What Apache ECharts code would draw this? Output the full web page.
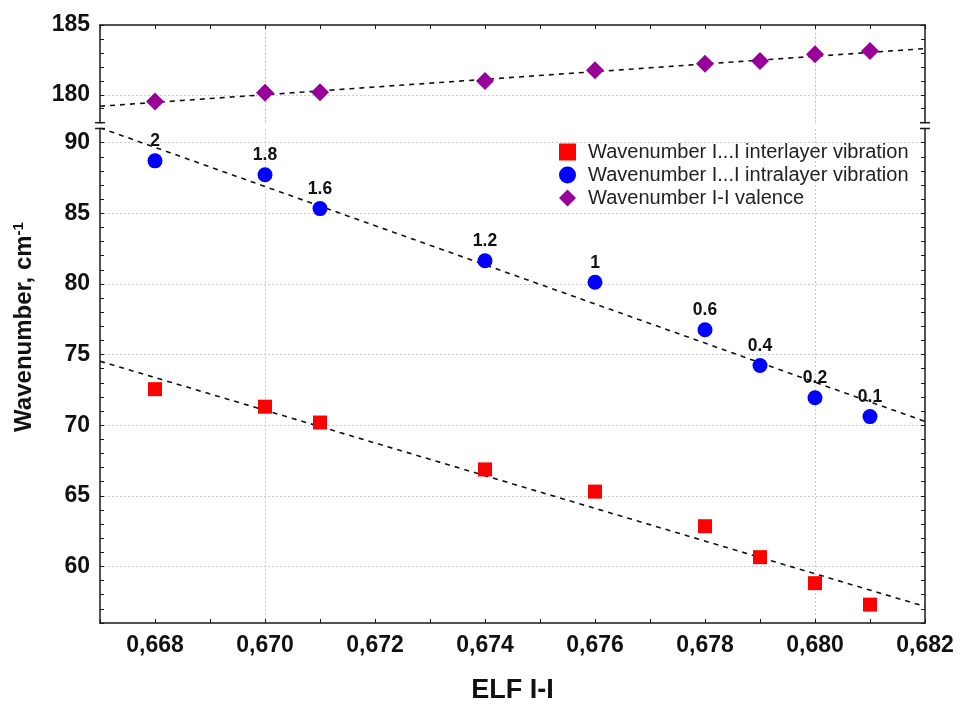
<!DOCTYPE html>
<html>
<head>
<meta charset="utf-8">
<script src="https://cdn.jsdelivr.net/npm/echarts@6/dist/echarts.min.js"></script>
<style>html,body{margin:0;padding:0;background:#fff}#c{width:960px;height:709px}</style>
</head>
<body>
<div id="c"></div>
<script>
// ---- data ----
const elf = [0.668, 0.670, 0.671, 0.674, 0.676, 0.678, 0.679, 0.680, 0.681];
const interlayer = [72.55, 71.31, 70.19, 66.87, 65.30, 62.85, 60.66, 58.82, 57.30];
const intralayer = [88.71, 87.73, 85.33, 81.64, 80.12, 76.76, 74.23, 71.94, 70.61];
const valence = [179.52, 180.14, 180.19, 180.98, 181.75, 182.23, 182.42, 182.90, 183.14];
const intraLabels = ['2', '1.8', '1.6', '1.2', '1', '0.6', '0.4', '0.2', '0.1'];
// trend line end points
const trendX = [0.667, 0.682];
const interTrend = [74.53, 57.17];
const intraTrend = [91.05, 70.27];
const valenceTrend = [179.18, 183.31];
// grid line positions
const xGrid = [0.668, 0.670, 0.672, 0.674, 0.676, 0.678, 0.680];
const yGridBottom = [60, 65, 70, 75, 80, 85, 90];
const yGridTop = [180];
const names = ['Wavenumber I...I interlayer vibration', 'Wavenumber I...I intralayer vibration', 'Wavenumber I-I valence'];

const FONT = "'Liberation Sans', Arial, sans-serif";
const AX = '#1a1a1a';
const G0 = {left: 100, top: 25, width: 825, height: 97.7};
const G1 = {left: 100, top: 128.5, width: 825, height: 499.5};

const pair = (xs, ys) => xs.map((x, i) => [x, ys[i]]);
const gridLineStyle = {color: '#cccccc', type: [2, 2], width: 1};

function xAxisCfg(grid, pos, showLabel) {
  return {
    type: 'value', gridIndex: grid, position: pos, min: 0.667, max: 0.682, interval: 0.001,
    axisLine: {show: true, onZero: false, lineStyle: {color: AX, width: 1.5}},
    axisTick: {show: true, inside: true, length: 4, lineStyle: {color: AX}},
    splitLine: {show: false},
    axisLabel: {
      show: showLabel, margin: 11, fontFamily: FONT, fontSize: 23, fontWeight: 'bold', color: '#111',
      formatter: v => (Math.round(v * 1000) % 2 === 0 ? v.toFixed(3).replace('.', ',') : '')
    }
  };
}
function yAxisCfg(grid, pos, min, max, showLabel) {
  return {
    type: 'value', gridIndex: grid, position: pos, min: min, max: max, interval: 1,
    axisLine: {show: true, onZero: false, lineStyle: {color: AX, width: 1.5}},
    axisTick: {show: true, inside: true, length: 4, lineStyle: {color: AX}},
    splitLine: {show: false},
    axisLabel: {
      show: showLabel, margin: 10, fontFamily: FONT, fontSize: 23, fontWeight: 'bold', color: '#111',
      formatter: v => (v % 5 === 0 ? String(v) : '')
    }
  };
}

const chart = echarts.init(document.getElementById('c'), null, {renderer: 'canvas'});
const option = {
  animation: false,
  backgroundColor: '#fff',
  grid: [G0, G1],
  xAxis: [
    xAxisCfg(0, 'top', false),
    Object.assign(xAxisCfg(1, 'bottom', true), {
      name: 'ELF I-I', nameLocation: 'middle', nameGap: 54,
      nameTextStyle: {fontFamily: FONT, fontSize: 27, fontWeight: 'bold', color: '#111'}
    })
  ],
  yAxis: [
    yAxisCfg(0, 'left', 178, 185, true),
    yAxisCfg(0, 'right', 178, 185, false),
    yAxisCfg(1, 'left', 56, 91, true),
    yAxisCfg(1, 'right', 56, 91, false)
  ],
  legend: {
    left: 554, top: 137, orient: 'vertical', itemGap: 3, itemWidth: 17, itemHeight: 17,
    textStyle: {fontFamily: FONT, fontSize: 20, color: '#222', padding: [0, 0, 0, 7]},
    data: [
      {name: names[0], icon: 'rect'},
      {name: names[1], icon: 'circle'},
      {name: names[2], icon: 'diamond'}
    ]
  },
  series: [
    // grid lines (drawn from value lists through the axes)
    {type: 'scatter', xAxisIndex: 0, yAxisIndex: 0, data: [], z: 0, silent: true,
     markLine: {z: 0, silent: true, symbol: 'none', label: {show: false}, lineStyle: gridLineStyle,
       data: xGrid.map(v => ({xAxis: v})).concat(yGridTop.map(v => ({yAxis: v})))}},
    {type: 'scatter', xAxisIndex: 1, yAxisIndex: 2, data: [], z: 0, silent: true,
     markLine: {z: 0, silent: true, symbol: 'none', label: {show: false}, lineStyle: gridLineStyle,
       data: xGrid.map(v => ({xAxis: v})).concat(yGridBottom.map(v => ({yAxis: v})))}},
    // trend lines
    {type: 'line', xAxisIndex: 0, yAxisIndex: 0, data: pair(trendX, valenceTrend), showSymbol: false, symbol: 'none',
     lineStyle: {color: '#111', width: 1.6, type: [5, 5]}, z: 2, clip: true},
    {type: 'line', xAxisIndex: 1, yAxisIndex: 2, data: pair(trendX, intraTrend), showSymbol: false, symbol: 'none',
     lineStyle: {color: '#111', width: 1.6, type: [5, 5]}, z: 2, clip: true},
    {type: 'line', xAxisIndex: 1, yAxisIndex: 2, data: pair(trendX, interTrend), showSymbol: false, symbol: 'none',
     lineStyle: {color: '#111', width: 1.6, type: [5, 5]}, z: 2, clip: true},
    // points
    {name: names[0], type: 'scatter', xAxisIndex: 1, yAxisIndex: 2, data: pair(elf, interlayer),
     symbol: 'rect', symbolSize: 14, itemStyle: {color: '#ff0000', opacity: 1}, z: 3},
    {name: names[1], type: 'scatter', xAxisIndex: 1, yAxisIndex: 2, data: pair(elf, intralayer),
     symbol: 'circle', symbolSize: 15, itemStyle: {color: '#0000ff', opacity: 1}, z: 3,
     label: {show: true, position: 'top', distance: 3, fontFamily: FONT, fontSize: 17.5, fontWeight: 'bold', color: '#111',
       formatter: p => intraLabels[p.dataIndex]}},
    {name: names[2], type: 'scatter', xAxisIndex: 0, yAxisIndex: 0, data: pair(elf, valence),
     symbol: 'diamond', symbolSize: [18, 18], itemStyle: {color: '#990099', opacity: 1}, z: 3}
  ],
  graphic: [
    {type: 'text', x: 24, y: 327, rotation: Math.PI / 2,
     style: {text: '{a|Wavenumber, cm}{s|-1}', align: 'center', verticalAlign: 'middle',
       rich: {
         a: {fontFamily: FONT, fontSize: 24, fontWeight: 'bold', fill: '#111', color: '#111'},
         s: {fontFamily: FONT, fontSize: 15, fontWeight: 'bold', fill: '#111', color: '#111', verticalAlign: 'top', padding: [0, 0, 10, 0]}
       }}},
    // axis break marks
    {type: 'line', shape: {x1: G0.left - 5, y1: G0.top + G0.height, x2: G0.left + 5, y2: G0.top + G0.height}, style: {stroke: AX, lineWidth: 1.5}},
    {type: 'line', shape: {x1: G1.left - 5, y1: G1.top, x2: G1.left + 5, y2: G1.top}, style: {stroke: AX, lineWidth: 1.5}},
    {type: 'line', shape: {x1: G0.left + G0.width - 5, y1: G0.top + G0.height, x2: G0.left + G0.width + 5, y2: G0.top + G0.height}, style: {stroke: AX, lineWidth: 1.5}},
    {type: 'line', shape: {x1: G1.left + G1.width - 5, y1: G1.top, x2: G1.left + G1.width + 5, y2: G1.top}, style: {stroke: AX, lineWidth: 1.5}}
  ]
};
chart.setOption(option);
</script>
</body>
</html>
